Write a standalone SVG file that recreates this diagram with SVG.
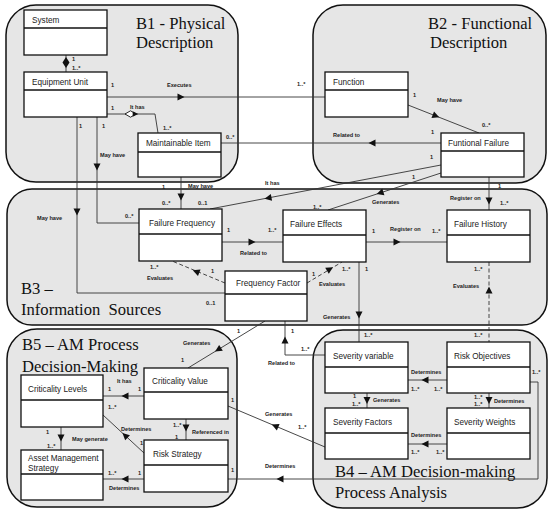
<svg xmlns="http://www.w3.org/2000/svg" xmlns:xlink="http://www.w3.org/1999/xlink" width="550" height="512" viewBox="0 0 550 512">
<style>
.cont{fill:#e6e6e6;stroke:#111;stroke-width:1.5}
.ttl{font-family:"Liberation Serif","Times New Roman",serif;font-size:16.6px;fill:#111}
.box{fill:#fff;stroke:#111;stroke-width:1.3}
.nt{font-family:"Liberation Sans",Arial,sans-serif;font-size:8.2px;fill:#222}
.ln{fill:none;stroke:#333;stroke-width:0.9}
.dash{stroke-dasharray:4,2.5}
.lb{font-family:"Liberation Sans",Arial,sans-serif;font-size:5.6px;font-weight:bold;fill:#222}
.ah{fill:#111}
</style>
<defs>
<path id="tri" d="M-3.5,-3.5 L3.5,0 L-3.5,3.5 Z"/>
</defs>
<rect width="550" height="512" fill="#fff"/>
<g id="containers">
<g id="B1"><rect class="cont" x="6" y="5" width="232" height="177" rx="30"/><text class="ttl" x="136" y="29">B1 - Physical</text><text class="ttl" x="136" y="48">Description</text></g>
<g id="B2"><rect class="cont" x="313" y="5" width="233" height="178" rx="30"/><text class="ttl" x="428" y="29">B2 - Functional</text><text class="ttl" x="430" y="48">Description</text></g>
<g id="B3"><rect class="cont" x="7" y="189" width="540" height="136" rx="25"/><text class="ttl" x="21" y="294">B3 –</text><text class="ttl" x="21" y="315" xml:space="preserve">Information  Sources</text></g>
<g id="B5"><rect class="cont" x="7" y="329" width="230" height="178" rx="30"/><text class="ttl" x="22" y="350">B5 – AM Process</text><text class="ttl" x="22" y="372">Decision-Making</text></g>
<g id="B4"><rect class="cont" x="313" y="330" width="234" height="178" rx="30"/><text class="ttl" x="335" y="477">B4 – AM Decision-making</text><text class="ttl" x="335" y="498">Process Analysis</text></g>
</g>
<g id="connectors">
<path class="ln" d="M66,55 V72"/>
<polygon class="ah" points="66,57 69.5,62.5 66,68 62.5,62.5"/>
<path class="ln" d="M107,97 H325"/>
<use href="#tri" class="ah" transform="translate(181,97)"/>
<path class="ln" d="M107,114 H155 L158,133"/>
<polygon points="125,114 130.5,110.8 136,114 130.5,117.2" fill="#fff" stroke="#111" stroke-width="0.9"/>
<use href="#tri" class="ah" transform="translate(135.5,114) scale(0.8)"/>
<path class="ln" d="M97,117 V223 H139"/>
<use href="#tri" class="ah" transform="translate(97,167) rotate(90)"/>
<path class="ln" d="M77,117 V293 H225"/>
<use href="#tri" class="ah" transform="translate(77,212) rotate(90)"/>
<path class="ln" d="M181,177 V209"/>
<use href="#tri" class="ah" transform="translate(181,197) rotate(90)"/>
<path class="ln" d="M441,143 H221"/>
<use href="#tri" class="ah" transform="translate(372,143) rotate(180)"/>
<path class="ln" d="M408,105 L479,133"/>
<use href="#tri" class="ah" transform="translate(436,116) rotate(21.5)"/>
<path class="ln" d="M441,165 L210,209"/>
<use href="#tri" class="ah" transform="translate(268,198) rotate(169.2)"/>
<path class="ln" d="M441,173 L328,210"/>
<use href="#tri" class="ah" transform="translate(380,193) rotate(161.9)"/>
<path class="ln" d="M489,177 V210"/>
<use href="#tri" class="ah" transform="translate(489,201) rotate(90)"/>
<path class="ln" d="M222,242 H283"/>
<use href="#tri" class="ah" transform="translate(252,242)"/>
<path class="ln" d="M366,242 H447"/>
<use href="#tri" class="ah" transform="translate(397,242)"/>
<path class="ln dash" d="M225,283 L172,261"/>
<use href="#tri" class="ah" transform="translate(196,271.5) rotate(201.6)"/>
<path class="ln dash" d="M307,283 L342,262"/>
<use href="#tri" class="ah" transform="translate(330,269) rotate(-31)"/>
<path class="ln dash" d="M489,262 V342"/>
<use href="#tri" class="ah" transform="translate(489,290) rotate(-90)"/>
<path class="ln" d="M359,262 V342"/>
<use href="#tri" class="ah" transform="translate(359,315) rotate(90)"/>
<path class="ln" d="M325,355 H285 V321"/>
<use href="#tri" class="ah" transform="translate(285,340) rotate(-90)"/>
<path class="ln" d="M265,321 L188,368"/>
<use href="#tri" class="ah" transform="translate(218,349.7) rotate(148.6)"/>
<path class="ln" d="M144,396 H103"/>
<use href="#tri" class="ah" transform="translate(125,396) rotate(180)"/>
<path class="ln" d="M186,419 V440"/>
<use href="#tri" class="ah" transform="translate(186,428) rotate(90)"/>
<path class="ln" d="M144,453 L103,415"/>
<use href="#tri" class="ah" transform="translate(125,435.4) rotate(222.8)"/>
<path class="ln" d="M61,427 V450"/>
<use href="#tri" class="ah" transform="translate(61,438) rotate(90)"/>
<path class="ln" d="M144,479 H103"/>
<use href="#tri" class="ah" transform="translate(125,479) rotate(180)"/>
<path class="ln" d="M228,406 L325,447"/>
<use href="#tri" class="ah" transform="translate(275,425.9) rotate(202.9)"/>
<path class="ln" d="M530,382 H538 V479 H228"/>
<use href="#tri" class="ah" transform="translate(280,479) rotate(180)"/>
<path class="ln" d="M447,380 H408"/>
<use href="#tri" class="ah" transform="translate(425,380) rotate(180)"/>
<path class="ln" d="M489,393 V408"/>
<use href="#tri" class="ah" transform="translate(489,400.5) rotate(90)"/>
<path class="ln" d="M367,393 V408"/>
<use href="#tri" class="ah" transform="translate(367,400.5) rotate(90)"/>
<path class="ln" d="M447,444 H408"/>
<use href="#tri" class="ah" transform="translate(425,444) rotate(180)"/>
</g>
<g id="labels">
<text class="lb" x="72" y="61">1</text><text class="lb" x="72" y="70">1..*</text>
<text class="lb" x="111" y="87">1</text><text class="lb" x="167" y="87">Executes</text><text class="lb" x="297" y="86">1..*</text>
<text class="lb" x="111" y="110">1</text><text class="lb" x="130" y="109">It has</text><text class="lb" x="163" y="130">1..*</text>
<text class="lb" x="226" y="139">0..*</text>
<text class="lb" x="79" y="128">1</text><text class="lb" x="102" y="128">1</text>
<text class="lb" x="100" y="157">May have</text>
<text class="lb" x="413" y="97">1</text><text class="lb" x="437" y="102">May have</text><text class="lb" x="482" y="127">0..*</text>
<text class="lb" x="333" y="137">Related to</text><text class="lb" x="431" y="134">1</text>
<text class="lb" x="430" y="159">1</text><text class="lb" x="412" y="179">1</text><text class="lb" x="498" y="188">1</text>
<text class="lb" x="162" y="189">1</text><text class="lb" x="188" y="188">May have</text><text class="lb" x="265" y="185">It has</text>
<text class="lb" x="162" y="205">0..*</text><text class="lb" x="198" y="205">0..1</text><text class="lb" x="125" y="218">0..*</text>
<text class="lb" x="372" y="204">Generates</text><text class="lb" x="313" y="209">1..*</text>
<text class="lb" x="450" y="200">Register on</text><text class="lb" x="500" y="205">1..*</text>
<text class="lb" x="37" y="220">May have</text>
<text class="lb" x="227" y="232">1</text><text class="lb" x="268" y="232">1..*</text><text class="lb" x="240" y="255">Related to</text>
<text class="lb" x="150" y="269">1..*</text><text class="lb" x="147" y="280">Evaluates</text><text class="lb" x="211" y="273">1</text>
<text class="lb" x="206" y="305">0..1</text>
<text class="lb" x="372" y="233">1</text><text class="lb" x="390" y="231">Register on</text><text class="lb" x="432" y="233">1..*</text>
<text class="lb" x="312" y="276">1</text><text class="lb" x="342" y="271">1..*</text><text class="lb" x="365" y="271">1</text>
<text class="lb" x="319" y="286">Evaluates</text>
<text class="lb" x="474" y="271">1..*</text><text class="lb" x="453" y="288">Evaluates</text>
<text class="lb" x="323" y="319">Generates</text>
<text class="lb" x="291" y="333">1</text><text class="lb" x="237" y="333">1</text>
<text class="lb" x="364" y="337">1..*</text><text class="lb" x="474" y="337">1..*</text>
<text class="lb" x="301" y="351">1..*</text><text class="lb" x="268" y="365">Related to</text>
<text class="lb" x="183" y="345">Generates</text><text class="lb" x="181" y="362">1</text>
<text class="lb" x="117" y="383">It has</text><text class="lb" x="108" y="391">1</text><text class="lb" x="138" y="391">1</text>
<text class="lb" x="108" y="409">1..*</text><text class="lb" x="231" y="402">1</text>
<text class="lb" x="121" y="431">Determines</text><text class="lb" x="173" y="427">1..*</text>
<text class="lb" x="192" y="434">Referenced in</text><text class="lb" x="175" y="439">1</text>
<text class="lb" x="140" y="445">1</text>
<text class="lb" x="46" y="434">1</text><text class="lb" x="72" y="441">May generate</text><text class="lb" x="47" y="448">1..*</text>
<text class="lb" x="108" y="475">1..*</text><text class="lb" x="138" y="475">1</text><text class="lb" x="109" y="490">Determines</text>
<text class="lb" x="231" y="472">1</text>
<text class="lb" x="265" y="416">Generates</text><text class="lb" x="298" y="429">1..*</text>
<text class="lb" x="265" y="468">Determines</text>
<text class="lb" x="411" y="374">Determines</text><text class="lb" x="411" y="391">1..*</text><text class="lb" x="434" y="391">1..*</text>
<text class="lb" x="532" y="374">1..*</text>
<text class="lb" x="353" y="398">1</text><text class="lb" x="352" y="406">1..*</text><text class="lb" x="373" y="402">Generates</text>
<text class="lb" x="474" y="399">1..*</text><text class="lb" x="474" y="406">1..*</text><text class="lb" x="494" y="403">Determines</text>
<text class="lb" x="411" y="437">Determines</text><text class="lb" x="411" y="454">1..*</text><text class="lb" x="436" y="454">1..*</text>
</g>
<g id="System"><rect class="box" x="24" y="10" width="83" height="45"/><line class="box" x1="24" y1="28" x2="107" y2="28"/><text class="nt" x="32" y="23">System</text></g>
<g id="EquipmentUnit"><rect class="box" x="24" y="72" width="83" height="45"/><line class="box" x1="24" y1="90" x2="107" y2="90"/><text class="nt" x="32" y="85">Equipment Unit</text></g>
<g id="MaintainableItem"><rect class="box" x="138" y="133" width="83" height="44"/><line class="box" x1="138" y1="152" x2="221" y2="152"/><text class="nt" x="146" y="146">Maintainable Item</text></g>
<g id="Function"><rect class="box" x="325" y="72" width="83" height="45"/><line class="box" x1="325" y1="90" x2="408" y2="90"/><text class="nt" x="333" y="85">Function</text></g>
<g id="FuntionalFailure"><rect class="box" x="441" y="133" width="83" height="44"/><line class="box" x1="441" y1="151" x2="524" y2="151"/><text class="nt" x="448" y="146">Funtional Failure</text></g>
<g id="FailureFrequency"><rect class="box" x="139" y="209" width="83" height="52"/><line class="box" x1="139" y1="234" x2="222" y2="234"/><text class="nt" x="149" y="226">Failure Frequency</text></g>
<g id="FailureEffects"><rect class="box" x="283" y="210" width="83" height="52"/><line class="box" x1="283" y1="235" x2="366" y2="235"/><text class="nt" x="290" y="227">Failure Effects</text></g>
<g id="FailureHistory"><rect class="box" x="447" y="210" width="83" height="52"/><line class="box" x1="447" y1="235" x2="530" y2="235"/><text class="nt" x="454" y="227">Failure History</text></g>
<g id="FrequencyFactor"><rect class="box" x="225" y="271" width="82" height="50"/><line class="box" x1="225" y1="294" x2="307" y2="294"/><text class="nt" x="236" y="286">Frequency Factor</text></g>
<g id="CriticalityValue"><rect class="box" x="144" y="368" width="84" height="51"/><line class="box" x1="144" y1="392" x2="228" y2="392"/><text class="nt" x="152" y="384">Criticality Value</text></g>
<g id="CriticalityLevels"><rect class="box" x="21" y="375" width="82" height="52"/><line class="box" x1="21" y1="400" x2="103" y2="400"/><text class="nt" x="28" y="392">Criticality Levels</text></g>
<g id="AssetManagementStrategy"><rect class="box" x="21" y="450" width="82" height="50"/><line class="box" x1="21" y1="474" x2="103" y2="474"/><text class="nt" x="28" y="461">Asset Management</text><text class="nt" x="28" y="471">Strategy</text></g>
<g id="RiskStrategy"><rect class="box" x="144" y="440" width="84" height="52"/><line class="box" x1="144" y1="465" x2="228" y2="465"/><text class="nt" x="153" y="457">Risk Strategy</text></g>
<g id="SeverityVariable"><rect class="box" x="325" y="342" width="83" height="51"/><line class="box" x1="325" y1="367" x2="408" y2="367"/><text class="nt" x="333" y="359">Severity variable</text></g>
<g id="RiskObjectives"><rect class="box" x="447" y="342" width="83" height="51"/><line class="box" x1="447" y1="367" x2="530" y2="367"/><text class="nt" x="454" y="359">Risk Objectives</text></g>
<g id="SeverityFactors"><rect class="box" x="325" y="408" width="83" height="51"/><line class="box" x1="325" y1="433" x2="408" y2="433"/><text class="nt" x="333" y="425">Severity Factors</text></g>
<g id="SeverityWeights"><rect class="box" x="447" y="408" width="83" height="51"/><line class="box" x1="447" y1="433" x2="530" y2="433"/><text class="nt" x="454" y="425">Severity Weights</text></g>
</svg>
